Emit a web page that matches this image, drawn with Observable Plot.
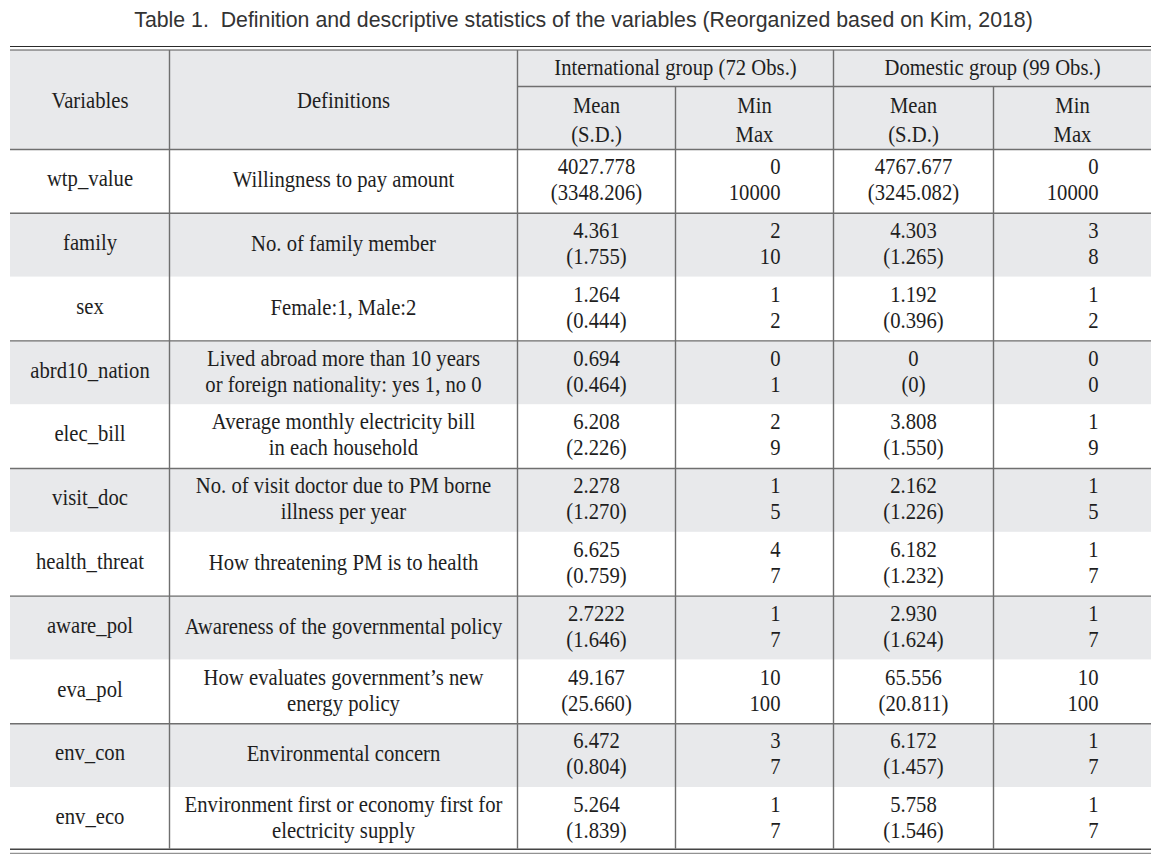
<!DOCTYPE html>
<html>
<head>
<meta charset="utf-8">
<script src="https://cdn.jsdelivr.net/npm/d3@7"></script>
<script src="https://cdn.jsdelivr.net/npm/@observablehq/plot@0.6"></script>
<style>
  html, body { margin: 0; padding: 0; background: #fff; }
</style>
</head>
<body>
<div id="chart"></div>
<script>
// ---------- data ----------
const title = "Table 1.  Definition and descriptive statistics of the variables (Reorganized based on Kim, 2018)";
const groupHeaders = ["International group (72 Obs.)", "Domestic group (99 Obs.)"];
const colHeaders = ["Variables", "Definitions", "Mean\n(S.D.)", "Min\nMax", "Mean\n(S.D.)", "Min\nMax"];

const variables = ["wtp_value", "family", "sex", "abrd10_nation", "elec_bill", "visit_doc",
  "health_threat", "aware_pol", "eva_pol", "env_con", "env_eco"];
const definitions = [
  "Willingness to pay amount",
  "No. of family member",
  "Female:1, Male:2",
  "Lived abroad more than 10 years\nor foreign nationality: yes 1, no 0",
  "Average monthly electricity bill\nin each household",
  "No. of visit doctor due to PM borne\nillness per year",
  "How threatening PM is to health",
  "Awareness of the governmental policy",
  "How evaluates government\u2019s new\nenergy policy",
  "Environmental concern",
  "Environment first or economy first for\nelectricity supply"
];
const intlMean = ["4027.778", "4.361", "1.264", "0.694", "6.208", "2.278", "6.625", "2.7222", "49.167", "6.472", "5.264"];
const intlSD   = ["3348.206", "1.755", "0.444", "0.464", "2.226", "1.270", "0.759", "1.646", "25.660", "0.804", "1.839"];
const intlMin  = ["0", "2", "1", "0", "2", "1", "4", "1", "10", "3", "1"];
const intlMax  = ["10000", "10", "2", "1", "9", "5", "7", "7", "100", "7", "7"];
const domMean  = ["4767.677", "4.303", "1.192", "0", "3.808", "2.162", "6.182", "2.930", "65.556", "6.172", "5.758"];
const domSD    = ["3245.082", "1.265", "0.396", "0", "1.550", "1.226", "1.232", "1.624", "20.811", "1.457", "1.546"];
const domMin   = ["0", "3", "1", "0", "1", "1", "1", "1", "10", "1", "1"];
const domMax   = ["10000", "8", "2", "0", "9", "5", "7", "7", "100", "7", "7"];

// ---------- layout ----------
const W = 1171, H = 858;
const edges = [10, 169, 517, 675, 833, 993, 1151];
const center = (c) => (edges[c] + edges[c + 1]) / 2;
const topRule1 = 46, topRule2 = 49.5;
const headTop = 50, headMid = 86, headBottom = 149;
const rowH = 63.8;
const tableBottom = headBottom + rowH * variables.length;
const rowTop = (i) => headBottom + i * rowH;
const rowY = (i) => rowTop(i) + rowH / 2 - 2.5;
const rightPad = 53;

const grayFill = "#e8e9eb";
const lineCol = "#6f6f6f";
const ink = "#1e1e1e";
const serif = "Liberation Serif, Times New Roman, serif";
const fs = 22.5;

const rows = variables.map((v, i) => ({
  i, variable: v, definition: definitions[i],
  intl: `${intlMean[i]}\n(${intlSD[i]})`,
  intlMM: `${intlMin[i]}\n${intlMax[i]}`,
  dom: `${domMean[i]}\n(${domSD[i]})`,
  domMM: `${domMin[i]}\n${domMax[i]}`
}));
const grayRows = rows.filter(r => r.i % 2 === 1);

const headerCells = colHeaders.map((t, c) => ({
  text: t, c,
  y: c < 2 ? (headTop + headBottom) / 2 - 1.5 : (headMid + headBottom) / 2
}));
const groupCells = groupHeaders.map((t, g) => ({
  text: t, x: (edges[2 + 2 * g] + edges[4 + 2 * g]) / 2, y: (headTop + headMid) / 2 - 1
}));

const serifText = {fontFamily: serif, fontSize: fs, fill: ink, lineAnchor: "middle"};

const plot = Plot.plot({
  width: W, height: H, margin: 0,
  x: {type: "linear", domain: [0, W], range: [0, W], axis: null},
  y: {type: "linear", domain: [0, H], range: [0, H], axis: null},
  style: {background: "#fff"},
  marks: [
    // backgrounds
    Plot.rect([0], {x1: edges[0], x2: edges[6], y1: headTop, y2: headBottom, fill: grayFill}),
    Plot.rect(grayRows, {x1: edges[0], x2: edges[6], y1: d => rowTop(d.i), y2: d => rowTop(d.i) + rowH, fill: grayFill}),
    // top / bottom double rules
    Plot.ruleY([topRule1], {x1: edges[0], x2: edges[6], stroke: "#2a2a2a", strokeWidth: 1.2}),
    Plot.ruleY([topRule2], {x1: edges[0], x2: edges[6], stroke: "#555", strokeWidth: 1}),
    Plot.ruleY([tableBottom - 2], {x1: edges[0], x2: edges[6], stroke: "#444", strokeWidth: 1.6}),
    Plot.ruleY([tableBottom + 2], {x1: edges[0], x2: edges[6], stroke: "#777", strokeWidth: 1}),
    // header rules
    Plot.ruleY([headMid], {x1: edges[2], x2: edges[6], stroke: lineCol, strokeWidth: 1.4}),
    Plot.ruleY([headBottom], {x1: edges[0], x2: edges[6], stroke: lineCol, strokeWidth: 1.6}),
    // rules above gray rows
    Plot.ruleY(grayRows, {y: d => rowTop(d.i), x1: edges[0], x2: edges[6], stroke: lineCol, strokeWidth: 1.4}),
    // vertical dividers
    Plot.ruleX([edges[1], edges[2], edges[4]], {x: d => d, y1: headTop, y2: tableBottom - 2, stroke: lineCol, strokeWidth: 1.4}),
    Plot.ruleX([edges[3], edges[5]], {x: d => d, y1: headMid, y2: tableBottom - 2, stroke: lineCol, strokeWidth: 1.4}),
    // title
    Plot.text([title], {x: 583, y: 20, text: d => d, fontFamily: "Liberation Sans, Arial, sans-serif",
      fontSize: 21.3, fill: "#333", lineAnchor: "middle"}),
    // headers
    Plot.text(groupCells, {x: "x", y: "y", text: "text", ...serifText}),
    Plot.text(headerCells, {x: d => center(d.c), y: "y", text: "text", ...serifText, lineHeight: 29 / fs}),
    // body
    Plot.text(rows, {x: center(0), y: d => rowY(d.i), text: "variable", ...serifText}),
    Plot.text(rows, {x: center(1), y: d => rowY(d.i), text: "definition", ...serifText, lineHeight: 26 / fs}),
    Plot.text(rows, {x: center(2), y: d => rowY(d.i), text: "intl", ...serifText, lineHeight: 26 / fs}),
    Plot.text(rows, {x: edges[4] - rightPad, y: d => rowY(d.i), text: "intlMM", textAnchor: "end", ...serifText, lineHeight: 26 / fs}),
    Plot.text(rows, {x: center(4), y: d => rowY(d.i), text: "dom", ...serifText, lineHeight: 26 / fs}),
    Plot.text(rows, {x: edges[6] - rightPad, y: d => rowY(d.i), text: "domMM", textAnchor: "end", ...serifText, lineHeight: 26 / fs})
  ]
});

// The source typeface is a slightly narrow Times; compress serif text horizontally around its anchor.
plot.querySelectorAll("g[font-family]").forEach(g => {
  if (!/Serif/.test(g.getAttribute("font-family"))) return;
  g.querySelectorAll(":scope > text").forEach(t => {
    const tr = t.getAttribute("transform") || "";
    t.setAttribute("transform", `${tr} scale(0.92,1)`);
  });
});

document.getElementById("chart").appendChild(plot);
</script>
</body>
</html>
